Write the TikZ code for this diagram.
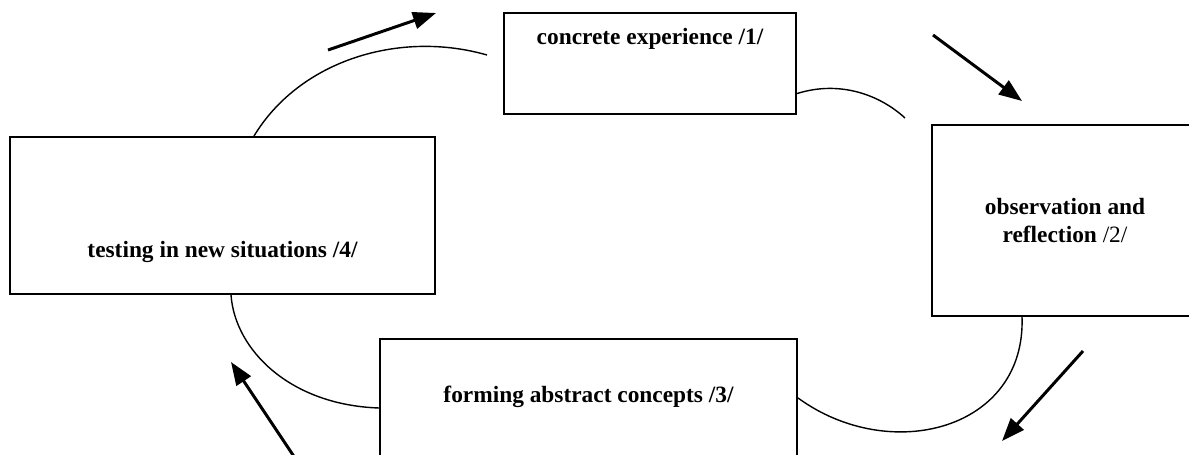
\documentclass[tikz,border=0pt]{standalone}
\usepackage{fontspec}
\setmainfont{Liberation Serif}
\usetikzlibrary{arrows.meta}
\tikzset{
box/.style={draw, line width=1.2pt, inner sep=0pt, font=\fontsize{13.3}{16.4}\selectfont\bfseries}, % the four boxes
loop/.style={line width=0.8pt}, % thin curved links
cyc/.style={->, line width=1.7pt}, % the bold arrows
}
\begin{document}
\begin{tikzpicture}[x=0.02cm, y=-0.02cm, >={Triangle[length=0.46cm,width=0.34cm]}]
\useasboundingbox (0,0) rectangle (1189,454);

\node[box, anchor=north west, minimum width=5.84cm, text height=0.62cm, text depth=1.4cm] (a) at (503,12) {concrete experience /1/};
\node[box, align=center, minimum width=5.32cm, minimum height=3.82cm] (b) at (1065,220.5) {observation and\\ reflection \textmd{/2/}};
\node[box, anchor=north west, minimum width=8.34cm, text height=1.26cm, text depth=1.8cm] (c) at (379,338) {forming abstract concepts /3/};
\node[box, anchor=north west, minimum width=8.5cm, text height=2.4cm, text depth=0.74cm] (d) at (9,136) {testing in new situations /4/};

% free ends of the links
\coordinate (e1) at (487,55);
\coordinate (e2) at (905,118);

\draw[loop] ([xshift=0.63cm]d.north) .. controls (300,60) and (400,30) .. (e1);
\draw[loop] ([yshift=-0.6cm]a.east) .. controls (840,80) and (880,95) .. (e2);
\draw[loop] ([xshift=-0.86cm]b.south) .. controls (1026,430) and (890,465) .. ([yshift=-1.2cm]c.north east);
\draw[loop] ([xshift=0.17cm]d.south) .. controls (235,350) and (290,405) .. ([yshift=-1.4cm]c.north west);

% arrows
\coordinate (p1) at (328,50);   \coordinate (q1) at (436,13);
\coordinate (p2) at (933,35);   \coordinate (q2) at (1022,101);
\coordinate (p3) at (1083,351); \coordinate (q3) at (1002,441);
\coordinate (p4) at (295,458);  \coordinate (q4) at (231,362);
\draw[cyc] (p1) -- (q1);
\draw[cyc] (p2) -- (q2);
\draw[cyc] (p3) -- (q3);
\draw[cyc] (p4) -- (q4);
\end{tikzpicture}
\end{document}
